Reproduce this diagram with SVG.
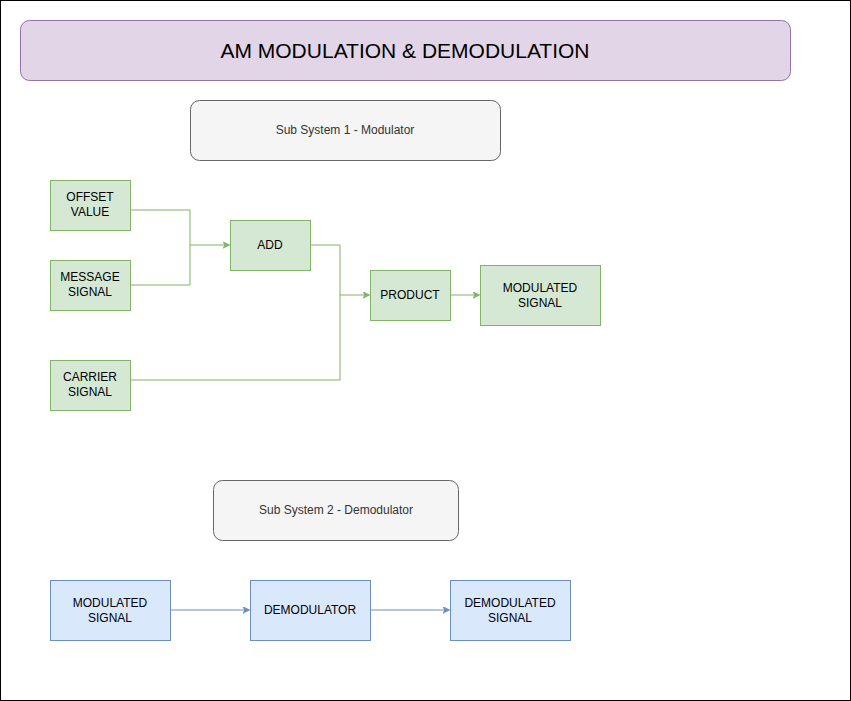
<svg xmlns="http://www.w3.org/2000/svg" width="851" height="701" viewBox="0 0 851 701">
<defs>
<style>
text{font-family:"Liberation Sans",Arial,sans-serif;font-size:12px;text-anchor:middle;dominant-baseline:central;fill:#000}
.g{fill:#d5e8d4;stroke:#82b366;stroke-width:1}
.b{fill:#dae8fc;stroke:#6c8ebf;stroke-width:1}
.s{fill:#f5f5f5;stroke:#666666;stroke-width:1}
.s2{fill:#333333}
.lg{fill:none;stroke:#82b366;stroke-width:1}
.lb{fill:none;stroke:#6c8ebf;stroke-width:1}
</style>
<marker id="ag" viewBox="0 0 10 10" refX="9" refY="5" markerWidth="7" markerHeight="7" markerUnits="userSpaceOnUse" orient="auto">
<path d="M0,0 L10,5 L0,10 L3,5 Z" fill="#82b366" stroke="#82b366"/>
</marker>
<marker id="ab" viewBox="0 0 10 10" refX="9" refY="5" markerWidth="7" markerHeight="7" markerUnits="userSpaceOnUse" orient="auto">
<path d="M0,0 L10,5 L0,10 L3,5 Z" fill="#6c8ebf" stroke="#6c8ebf"/>
</marker>
</defs>
<rect x="0" y="0" width="851" height="701" fill="#ffffff"/>
<rect x="0.5" y="0.5" width="850" height="700" fill="none" stroke="#000" stroke-width="1"/>

<g id="connectors">
<path class="lg" d="M130,210 H190 V245 H229" marker-end="url(#ag)"/>
<path class="lg" d="M130,285 H190 V245"/>
<path class="lg" d="M310,245 H340 V295 H369" marker-end="url(#ag)"/>
<path class="lg" d="M130,380 H340 V295"/>
<path class="lg" d="M450,295 H479" marker-end="url(#ag)"/>
<path class="lb" d="M170,610 H249" marker-end="url(#ab)"/>
<path class="lb" d="M370,610 H449" marker-end="url(#ab)"/>
</g>

<g id="title">
<rect x="20.5" y="20.5" width="770" height="60" rx="9" fill="#e1d5e7" stroke="#9673a6"/>
<text x="405" y="50" style="font-size:21px">AM MODULATION &amp; DEMODULATION</text>
</g>
<g id="sub1">
<rect class="s" x="190.5" y="100.5" width="310" height="60" rx="9"/>
<text class="s2" x="345" y="130">Sub System 1 - Modulator</text>
</g>
<g id="offset">
<rect class="g" x="50.5" y="180.5" width="80" height="50"/>
<text x="90" y="197">OFFSET</text><text x="90" y="212">VALUE</text>
</g>
<g id="message">
<rect class="g" x="50.5" y="260.5" width="80" height="50"/>
<text x="90" y="277">MESSAGE</text><text x="90" y="292">SIGNAL</text>
</g>
<g id="carrier">
<rect class="g" x="50.5" y="360.5" width="80" height="50"/>
<text x="90" y="377">CARRIER</text><text x="90" y="392">SIGNAL</text>
</g>
<g id="add">
<rect class="g" x="230.5" y="220.5" width="80" height="50"/>
<text x="270" y="245">ADD</text>
</g>
<g id="product">
<rect class="g" x="370.5" y="270.5" width="80" height="50"/>
<text x="410" y="295">PRODUCT</text>
</g>
<g id="modulated">
<rect class="g" x="480.5" y="265.5" width="120" height="60"/>
<text x="540" y="288">MODULATED</text><text x="540" y="303">SIGNAL</text>
</g>
<g id="sub2">
<rect class="s" x="213.5" y="480.5" width="245" height="60" rx="9"/>
<text class="s2" x="336" y="510">Sub System 2 - Demodulator</text>
</g>
<g id="modin">
<rect class="b" x="50.5" y="580.5" width="120" height="60"/>
<text x="110" y="603">MODULATED</text><text x="110" y="618">SIGNAL</text>
</g>
<g id="demod">
<rect class="b" x="250.5" y="580.5" width="120" height="60"/>
<text x="310" y="610">DEMODULATOR</text>
</g>
<g id="demodout">
<rect class="b" x="450.5" y="580.5" width="120" height="60"/>
<text x="510" y="603">DEMODULATED</text><text x="510" y="618">SIGNAL</text>
</g>
</svg>
